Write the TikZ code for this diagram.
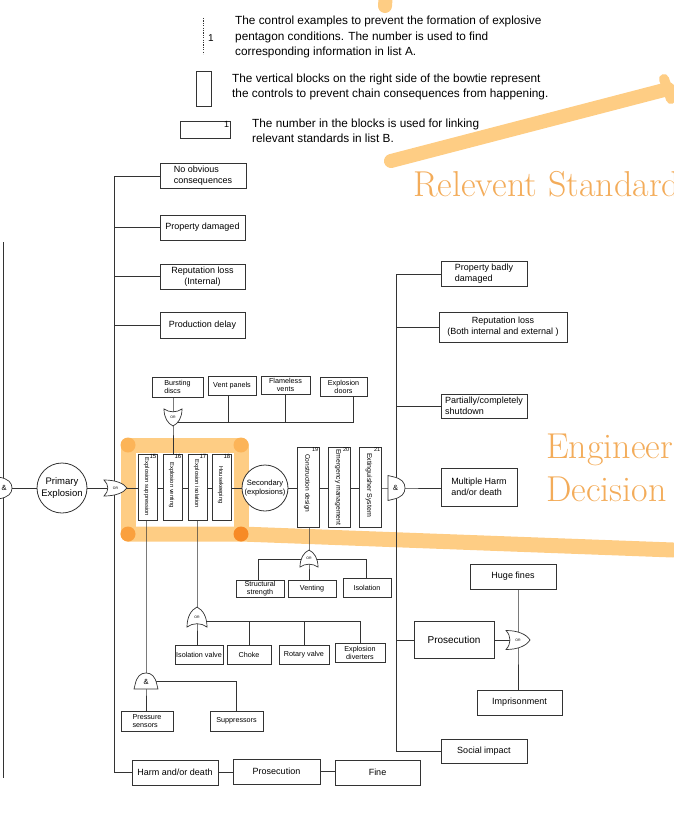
\documentclass[tikz,border=0pt]{standalone}
\usepackage{fontspec}
\setmainfont{Liberation Sans}
\newfontfamily\hlserif{Latin Modern Roman}
\newcommand\fs[2]{\fontsize{#1}{#2}\selectfont}
\pgfdeclarelayer{hl}
\pgfdeclarelayer{wires}
\pgfsetlayers{hl,wires,main}
\definecolor{hlband}{RGB}{254,205,132}
\definecolor{hlcorner}{RGB}{252,180,88}
\definecolor{hlmid}{RGB}{250,160,62}
\definecolor{hldark}{RGB}{247,138,38}
\definecolor{hltext}{RGB}{243,172,90}
\tikzset{
  gateshape/.style={draw=black!80, fill=white, line width=0.7pt},
}
% OR gate pointing along local +x, back at origin, length 1, height 1
\newcommand\drawor[2]{%
  \begin{scope}[#2]
    \path[gateshape] (0,0.5) .. controls (0.5,0.5) and (0.85,0.3) .. (1,0) .. controls (0.85,-0.3) and (0.5,-0.5) .. (0,-0.5) .. controls (0.22,-0.2) and (0.22,0.2) .. (0,0.5) -- cycle;
    \node[inner sep=0pt, font=\fs{3.5}{4}] (#1) at (0.5,0) {OR};
  \end{scope}}
% AND gate pointing along local +x
\newcommand\drawand[3]{%
  \begin{scope}[#2]
    \path[gateshape] (0,0.5) -- (0,-0.5) -- (0.3,-0.45) .. controls (0.8,-0.38) and (1,-0.22) .. (1,0) .. controls (1,0.22) and (0.8,0.38) .. (0.3,0.45) -- cycle;
    \node[inner sep=0pt, font=\fs{7.5}{8}] (#1) at (#3,0) {\&};
  \end{scope}}
\begin{document}
\begin{tikzpicture}[x=1pt,y=-1pt,
  wire/.style={draw=black!80, line width=0.75pt},
  box/.style={draw=black!80, fill=white, line width=0.8pt, inner sep=0pt, align=center, font=\fs{9}{11}},
  sbox/.style={box, font=\fs{7.2}{8}},
  wh/.style 2 args={minimum width=#1, minimum height=#2},
  blk/.style={draw=black!80, fill=white, line width=0.8pt, inner sep=0pt, minimum width=19, minimum height=66},
  blk2/.style={blk, minimum width=22, minimum height=80},
  vtxt/.style={rotate=-90, inner sep=0pt, font=\fs{5.8}{6}},
  num/.style={anchor=north east, inner sep=1pt, font=\fs{6}{6}},
  txt/.style={inner sep=0pt},
]
\useasboundingbox (0,0) rectangle (673,816);

% ---------- gate reference points ----------
\coordinate (g0c) at (114,488);
\coordinate (g1c) at (173,417);
\coordinate (g2c) at (309,559);
\coordinate (g3c) at (197,617);
\coordinate (g4c) at (146,681);
\coordinate (g5c) at (396,488);
\coordinate (g6c) at (518,640);

% ---------- legend ----------
\coordinate (ld1) at (203,18);
\coordinate (ld2) at (203,54);
\draw[wire, line width=0.6pt, dash pattern=on 1.2pt off 1.2pt] (ld1) -- (ld2);
\node[txt, font=\fs{10}{11}] (l1) at (211,38) {1};
\node[txt, anchor=west, align=left, font=\fs{11.8}{15.5}] (lt1) at (235,37) {The control examples to prevent the formation of explosive\\pentagon conditions. The number is used to find\\corresponding information in list A.};
\node[draw=black!80, line width=0.8pt, minimum width=15, minimum height=35, inner sep=0pt] (lb2) at (203.5,88.5) {};
\node[txt, anchor=west, align=left, font=\fs{11.8}{14.5}] (lt2) at (232,87) {The vertical blocks on the right side of the bowtie represent\\the controls to prevent chain consequences from happening.};
\node[draw=black!80, line width=0.8pt, minimum width=50, minimum height=17, inner sep=0pt] (lb3) at (205,129.5) {};
\node[num, font=\fs{9}{9}] (l3n) at (lb3.north east) {1};
\node[txt, anchor=west, align=left, font=\fs{11.8}{14.5}] (lt3) at (252,131) {The number in the blocks is used for linking\\relevant standards in list B.};

% ---------- orange annotations ----------
\node[txt, anchor=base west, font=\hlserif\fs{36}{36}, text=hltext] (rstd) at (413,196) {Relevent Standard};
\node[txt, anchor=base west, font=\hlserif\fs{36}{36}, text=hltext] (en1) at (546,458) {Engineer};
\node[txt, anchor=base west, font=\hlserif\fs{36}{36}, text=hltext] (en2) at (546,501) {Decision};

% ---------- left consequences ----------
\node[box, wh={86}{25}, align=left] (nob) at (203,176) {No obvious\\consequences};
\node[box, wh={85}{25}] (pd) at (202.5,227.5) {Property damaged};
\node[box, wh={85}{25}] (rli) at (202.5,276.5) {Reputation loss\\(Internal)};
\node[box, wh={85}{26}] (prd) at (202.5,325) {Production delay};
\node[box, wh={86}{25}] (harm) at (175,772.5) {Harm and/or death};
\node[box, wh={87}{25}] (pros1) at (276.5,771.5) {Prosecution};
\node[box, wh={85}{25}] (fine) at (377.5,772.5) {Fine};

% ---------- main chain ----------
\node[circle, draw=black!80, fill=white, line width=0.8pt, minimum size=50, inner sep=0pt, align=center, font=\fs{9.5}{11.5}] (pe) at (62,488) {Primary\\Explosion};
\node[circle, draw=black!80, fill=white, line width=0.8pt, minimum size=46, inner sep=0pt, align=center, font=\fs{7.6}{9.5}] (sec) at (265,488) {Secondary\\(explosions)};

\node[blk] (b15) at (147.5,487) {};
\node[blk] (b16) at (172.5,487) {};
\node[blk] (b17) at (197.5,487) {};
\node[blk] (b18) at (221.5,487) {};
\node[vtxt] (b15t) at (146.5,487) {Explosion suppression};
\node[vtxt] (b16t) at (171.5,485) {Explosion venting};
\node[vtxt] (b17t) at (196.5,484) {Explosion isolation};
\node[vtxt] (b18t) at (220.5,485) {Housekeeping};
\node[num] (b15n) at (b15.north east) {15};
\node[num] (b16n) at (b16.north east) {16};
\node[num] (b17n) at (b17.north east) {17};
\node[num] (b18n) at (b18.north east) {18};

\node[blk2] (b19) at (308,487) {};
\node[blk2] (b20) at (339,487) {};
\node[blk2] (b21) at (370,487) {};
\node[vtxt, anchor=west, font=\fs{6.6}{7}] (b19t) at (307,454) {Construction design};
\node[vtxt, anchor=west, font=\fs{6.8}{7}] (b20t) at (338,449) {Emergency management};
\node[vtxt, anchor=west, font=\fs{7}{7}] (b21t) at (369,453) {Extinguisher System};
\node[num, font=\fs{5.5}{6}] (b19n) at (b19.north east) {19};
\node[num, font=\fs{5.5}{6}] (b20n) at (b20.north east) {20};
\node[num, font=\fs{5.5}{6}] (b21n) at (b21.north east) {21};

% ---------- barrier sub-controls ----------
\node[sbox, wh={51}{20}, align=left] (bd) at (177.5,387) {Bursting\\discs};
\node[sbox, wh={48}{19}] (vp) at (232,385.5) {Vent panels};
\node[sbox, wh={49}{18}] (fv) at (285.5,385) {Flameless\\vents};
\node[sbox, wh={47}{19}] (exd) at (343.5,386.5) {Explosion\\doors};

\node[sbox, wh={48}{17}] (ss) at (260,588.5) {Structural\\strength};
\node[sbox, wh={48}{17}] (vt) at (312,588.5) {Venting};
\node[sbox, wh={48}{19}] (iso) at (367,587.5) {Isolation};

\node[sbox, wh={48}{19}] (iv) at (199,654.5) {Isolation valve};
\node[sbox, wh={44}{19}] (ch) at (249,654.5) {Choke};
\node[sbox, wh={50}{19}] (rv) at (304,654.5) {Rotary valve};
\node[sbox, wh={50}{19}] (edv) at (360,652.5) {Explosion\\diverters};

\node[sbox, wh={52}{20}, align=left] (ps) at (147,721) {Pressure\\sensors};
\node[sbox, wh={53}{20}] (sup) at (236.5,721) {Suppressors};

% ---------- right consequences ----------
\node[box, wh={86}{25}, align=left] (pbd) at (484,274) {Property badly\\damaged};
\node[box, wh={128}{30}] (rl2) at (503,327) {Reputation loss\\(Both internal and external )};
\node[box, wh={86}{24}, align=left] (pcs) at (484,406) {Partially/completely\\shutdown};
\node[box, wh={76}{38}, align=left] (mh) at (479,487) {Multiple Harm\\and/or death};
\node[box, wh={80}{37}, font=\fs{10}{12}] (pros2) at (454,640) {Prosecution};
\node[box, wh={86}{25}] (hf) at (513,576.5) {Huge fines};
\node[box, wh={85}{25}] (imp) at (519.5,702.5) {Imprisonment};
\node[box, wh={86}{24}] (soc) at (484,751) {Social impact};

% ---------- gates ----------
\drawand{gLl}{shift={(-6,488)}, xscale=18, yscale=24}{0.56}
\drawor{g0l}{shift={(104,488)}, xscale=23, yscale=16}
\drawor{g1l}{shift={(173,409)}, rotate=-90, xscale=17, yscale=18}
\drawor{g2l}{shift={(309,567)}, rotate=90, xscale=17, yscale=18}
\drawor{g3l}{shift={(197,627)}, rotate=90, xscale=20, yscale=20}
\drawand{g4l}{shift={(146,689)}, rotate=90, xscale=16, yscale=24}{0.45}
\drawand{g5l}{shift={(388,488)}, xscale=17, yscale=25}{0.45}
\drawor{g6l}{shift={(506,640)}, xscale=24, yscale=19}

% ---------- connectors ----------
\begin{pgfonlayer}{wires}
\coordinate (LS) at (114,0);
\coordinate (RS) at (396,0);
\coordinate (ML) at (0,488);
\draw[wire] (nob.west) -- (nob.west -| LS) -- (harm.west -| LS) -- (harm.west);
\foreach \n in {pd,rli,prd} \draw[wire] (\n.west) -- (\n.west -| LS);
\draw[wire] (harm.east) -- (harm.east -| pros1.west);
\draw[wire] (pros1.east) -- (pros1.east -| fine.west);
\coordinate (LE1) at (3,242);
\coordinate (LE2) at (3,778);
\draw[wire] (LE1) -- (LE2);
\coordinate (gLc) at (0,488);
\draw[wire] (gLc) -- (pe);
\draw[wire] (pe) -- (g0c);
\draw[wire] (g0c) -- (b15.west |- ML);
\draw[wire] (b15.east |- ML) -- (b16.west |- ML);
\draw[wire] (b16.east |- ML) -- (b17.west |- ML);
\draw[wire] (b17.east |- ML) -- (b18.west |- ML);
\draw[wire] (b18.east |- ML) -- (sec);
\draw[wire] (sec) -- (b19.west |- ML);
\draw[wire] (b19.east |- ML) -- (b20.west |- ML);
\draw[wire] (b20.east |- ML) -- (b21.west |- ML);
\draw[wire] (b21.east |- ML) -- (g5c) -- (mh.west |- ML);
\draw[wire] (pbd.west) -- (pbd.west -| RS) -- (soc.west -| RS) -- (soc.west);
\foreach \n in {rl2,pcs,pros2} \draw[wire] (\n.west) -- (\n.west -| RS);
\draw[wire] (pros2.east) -- (g6c);
\draw[wire] (hf.south -| g6c) -- (g6c) -- (imp.north -| g6c);
% top OR gate
\draw[wire] (bd.south -| g1c) -- (g1c) -- (b16.north -| g1c);
\coordinate (H1) at (0,422);
\coordinate (vpx) at ([xshift=-4pt]vp.south);
\coordinate (exdx) at ([xshift=9.5pt]exd.south);
\draw[wire] (g1c |- H1) -- (exdx |- H1) -- (exdx);
\draw[wire] (vpx) -- (vpx |- H1);
\draw[wire] (fv.south) -- (fv.south |- H1);
% construction OR gate
\draw[wire] (b19.south -| g2c) -- (g2c) -- (vt.north -| g2c);
\coordinate (H2) at (0,559);
\coordinate (ssx) at ([xshift=-2pt]ss.north);
\coordinate (isox) at ([xshift=-1pt]iso.north);
\draw[wire] (ssx) -- (ssx |- H2) -- (isox |- H2) -- (isox);
% isolation OR gate
\draw[wire] (b17.south -| g3c) -- (g3c) -- (iv.north -| g3c);
\coordinate (H3) at (0,621);
\draw[wire] (g3c |- H3) -- (edv.north |- H3) -- (edv.north);
\draw[wire] (ch.north) -- (ch.north |- H3);
\draw[wire] (rv.north) -- (rv.north |- H3);
% suppression AND gate
\draw[wire] (b15.south -| g4c) -- (g4c) -- (ps.north -| g4c);
\draw[wire] (g4c) -- (sup.north |- g4c) -- (sup.north);
\end{pgfonlayer}

% ---------- highlight strokes ----------
\begin{pgfonlayer}{hl}
\coordinate (o1) at (128,445);
\coordinate (o2) at (241,445);
\coordinate (o3) at (241,534);
\coordinate (o4) at (128,534);
\coordinate (o5) at (673,550);
\draw[hlband, line width=15pt, line cap=round, line join=round] (o4) -- (o1) -- (o2) -- (o3);
\draw[hlband, line width=15pt, line cap=round] (o4) -- (o3) -- (o5);
\fill[hlcorner] (o1) circle (7.5);
\fill[hlcorner] (o2) circle (7.5);
\fill[hlmid] (o4) circle (7.5);
\fill[hldark] (o3) circle (7.5);
\coordinate (t1) at (391,161);
\coordinate (t2) at (668,89);
\coordinate (t3) at (664,79);
\coordinate (t4) at (671,99);
\draw[hlband, line width=14pt, line cap=round] (t1) -- (t2);
\draw[hlband, line width=10pt, line cap=round] (t3) -- (t4);
\coordinate (t5) at (386,-8);
\coordinate (t6) at (385,6);
\draw[hlband, line width=14pt, line cap=round] (t5) -- (t6);
\end{pgfonlayer}
\end{tikzpicture}
\end{document}
